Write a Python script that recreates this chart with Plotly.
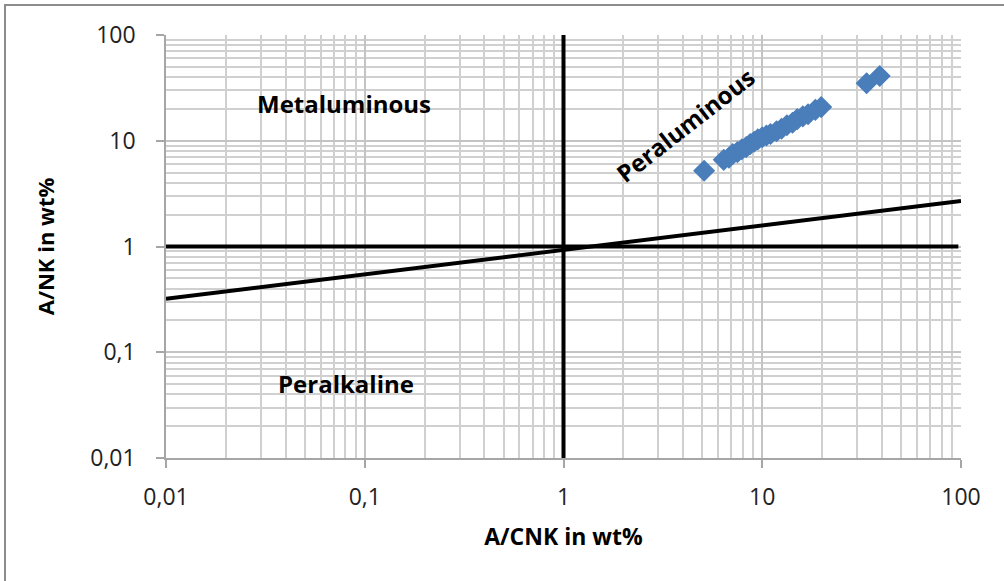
import plotly.graph_objects as go

# Data
acnk = [5.1, 6.4, 6.8, 7.1, 7.5, 7.9, 8.3, 8.7, 9.1, 9.5, 10.0, 10.5, 11.0, 11.8,
        12.5, 13.3, 14.2, 15.0, 16.0, 17.0, 18.5, 19.8, 33.5, 39.0]
ank = [5.2, 6.6, 6.9, 7.5, 7.8, 8.3, 8.7, 9.3, 9.8, 10.3, 10.8, 11.2, 11.6, 12.3,
       13.0, 14.0, 14.8, 16.0, 17.0, 17.8, 19.6, 20.8, 35.0, 41.0]

h_line_x = [0.01, 97]
h_line_y = [1, 1]
v_line_x = [1, 1]
v_line_y = [0.01, 100]
s_line_x = [0.01, 100]
s_line_y = [0.32, 2.7]

tick_vals = [0.01, 0.1, 1, 10, 100]
tick_text = ["0,01", "0,1", "1", "10", "100"]
minor_vals = [m * 10 ** e for e in range(-2, 2) for m in range(2, 10)]

FONT = "Open Sans"

fig = go.Figure()
for xs, ys in [(h_line_x, h_line_y), (v_line_x, v_line_y), (s_line_x, s_line_y)]:
    fig.add_trace(go.Scatter(x=xs, y=ys, mode="lines",
                             line=dict(color="black", width=4), showlegend=False))
fig.add_trace(go.Scatter(x=acnk, y=ank, mode="markers",
                         marker=dict(symbol="diamond", size=17, color="#4A7EBB"),
                         showlegend=False))

axis_common = dict(
    type="log",
    tickmode="array", tickvals=tick_vals, ticktext=tick_text,
    showgrid=True, gridcolor="#C4C4C4", gridwidth=1.5,
    showline=True, linecolor="#A6A6A6", linewidth=1.5,
    ticks="outside", ticklen=8, tickcolor="#A6A6A6", tickwidth=1.5,
    tickfont=dict(family=FONT, size=23, color="#222222"),
    minor=dict(tickvals=minor_vals, showgrid=True, gridcolor="#D0D0D0",
               gridwidth=1.5, ticks=""),
    zeroline=False,
)

fig.update_xaxes(axis_common, range=[-2, 2], ticklabelstandoff=10,
                 title=dict(text="<b>A/CNK in wt%</b>", standoff=18,
                            font=dict(family=FONT, size=23, color="black")))
fig.update_yaxes(axis_common, range=[-2, 2], ticklabelstandoff=16,
                 title=dict(text="<b>A/NK in wt%</b>", standoff=30,
                            font=dict(family=FONT, size=22, color="black")))

annots = [
    dict(x=-1.104, y=1.357, text="<b>Metaluminous</b>", textangle=0),
    dict(x=-1.094, y=-1.3, text="<b>Peralkaline</b>", textangle=0),
    dict(x=0.616, y=1.149, text="<b>Peraluminous</b>", textangle=-38),
]
for a in annots:
    fig.add_annotation(x=a["x"], y=a["y"], xref="x", yref="y", text=a["text"],
                       textangle=a["textangle"], showarrow=False,
                       font=dict(family=FONT, size=24, color="black"))

fig.add_shape(type="rect", xref="paper", yref="paper",
              x0=-0.2025, x1=1.07, y0=-0.3, y1=1.071,
              line=dict(color="#8C8C8C", width=2), fillcolor="rgba(0,0,0,0)",
              layer="below")

fig.update_layout(
    width=1004, height=581,
    margin=dict(l=166, r=43, t=35, b=123),
    plot_bgcolor="white", paper_bgcolor="white",
    showlegend=False,
)

fig.write_html("out.html")
